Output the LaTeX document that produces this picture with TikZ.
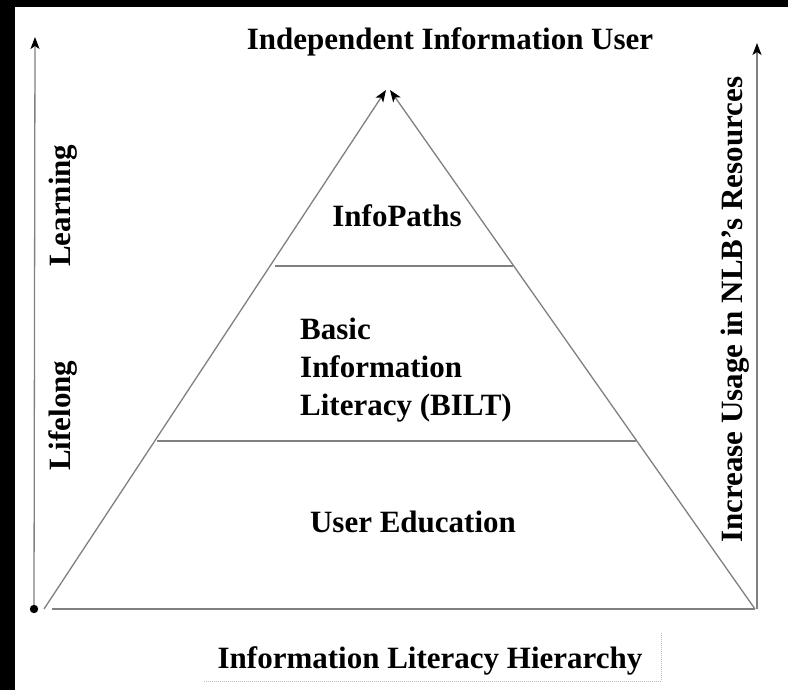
\documentclass[tikz,border=0pt]{standalone}
\usepackage{fontspec}
\setmainfont{Liberation Serif}
\usetikzlibrary{arrows.meta}
\begin{document}
\begin{tikzpicture}[x=1pt,y=-1pt,
  lbl/.style={font=\fontsize{31}{38}\selectfont\bfseries, inner sep=0pt},
  ln/.style={draw=black!50, line width=1.3pt},
  tipped/.style={-{Stealth[color=black,length=12pt,width=9pt,inset=3pt]}},
  shadow/.style={draw=black!25, line width=1pt, densely dotted}]
\useasboundingbox (0,0) rectangle (788,690);
\fill[white] (0,0) rectangle (788,690);
\fill[black] (0,0) rectangle (15,690);
\fill[black] (0,0) rectangle (788,7);

% coordinates
\coordinate (dot) at (34,609);
\coordinate (ltop) at (35,37);
\coordinate (bl) at (44,609);
\coordinate (bls) at (52,609);
\coordinate (br) at (755,609);
\coordinate (rbot) at (757,609);
\coordinate (rtop) at (757,43);
\coordinate (apexL) at (386,90);
\coordinate (apexR) at (390,90);
\coordinate (m1l) at (275,266);
\coordinate (m1r) at (513,266);
\coordinate (m2l) at (157,441);
\coordinate (m2r) at (636,441);
\coordinate (shTR) at (661,633);
\coordinate (shBR) at (661,681);
\coordinate (shBL) at (204,681);

% axes
\draw[ln,tipped] (dot) -- (ltop);
\fill[black] (dot) circle (4.2);
\draw[ln,tipped] (rbot) -- (rtop);

% pyramid
\draw[ln,tipped] (bl) -- (apexL);
\draw[ln,tipped] (br) -- (apexR);
\draw[ln] (bls) -- (br);
\draw[ln] (m1l) -- (m1r);
\draw[ln] (m2l) -- (m2r);

% texts
\node[lbl,anchor=base] (top) at (450,50) {Independent Information User};
\node[lbl,anchor=base] (ip) at (397,226) {InfoPaths};
\node[lbl,anchor=base west] (b1) at (300,339) {Basic};
\node[lbl,anchor=base west] (b2) at (300,377) {Information};
\node[lbl,anchor=base west] (b3) at (300,415) {Literacy (BILT)};
\node[lbl,anchor=base] (ue) at (413,532) {User Education};
\node[lbl,anchor=base] (ilh) at (430,668) {Information Literacy Hierarchy};
\draw[shadow] (shTR) -- (shBR) -- (shBL);

\node[lbl,rotate=90,anchor=base west] (lf) at (70,471) {Lifelong};
\node[lbl,rotate=90,anchor=base west] (lr) at (70,267) {Learning};
\node[lbl,rotate=90,anchor=base west] (inc) at (742,543) {Increase Usage in NLB’s Resources};
\end{tikzpicture}
\end{document}
